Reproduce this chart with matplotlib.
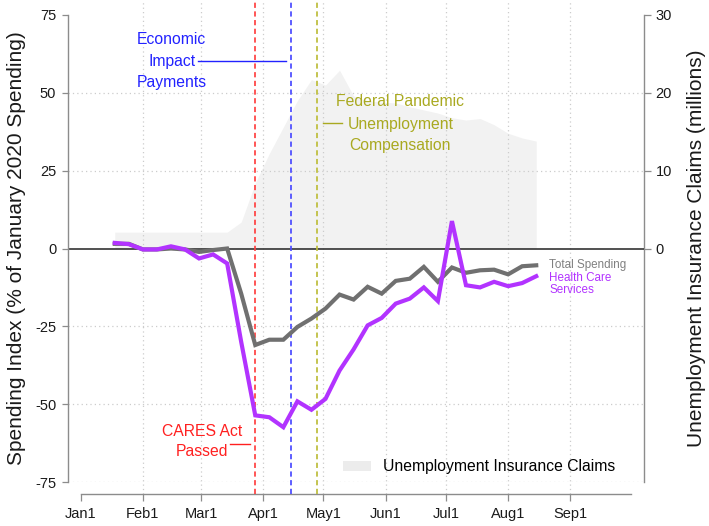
import numpy as np
import pandas as pd
import matplotlib
matplotlib.use('Agg')
import matplotlib.pyplot as plt
from matplotlib.patches import Patch

plt.rcParams['font.family'] = ['Liberation Sans', 'DejaVu Sans']

# ---------------- data ----------------
week_dates = pd.date_range('2020-01-18', periods=31, freq='7D')
total_spending = [1.5, 1.5, -0.3, -0.3, 0.0, -0.3, -1.1, -0.5, 0.0, -14.5,
                  -31.0, -29.3, -29.3, -25.2, -22.5, -19.3, -14.8, -16.4, -12.3, -14.5,
                  -10.4, -9.7, -5.9, -10.7, -6.1, -7.8, -7.0, -6.8, -8.3, -5.7, -5.4]
health_care = [1.8, 1.4, -0.3, -0.3, 0.7, -0.3, -3.2, -1.9, -4.8, -30.0,
               -53.6, -54.2, -57.4, -49.1, -51.8, -48.3, -39.2, -32.4, -24.7, -22.3,
               -17.7, -16.1, -12.5, -16.9, 8.8, -11.8, -12.5, -10.7, -12.1, -11.1, -8.9]
ui_claims = [2.1, 2.1, 2.1, 2.1, 2.1, 2.1, 2.1, 2.1, 2.1, 3.4,
             8.4, 12.2, 15.6, 19.0, 21.7, 21.0, 22.9, 19.6, 19.0, 18.8,
             18.7, 18.2, 17.8, 17.4, 16.8, 16.5, 16.7, 15.9, 14.8, 14.2, 13.8]

month_ticks = ['2020-01-01', '2020-02-01', '2020-03-01', '2020-04-01', '2020-05-01',
               '2020-06-01', '2020-07-01', '2020-08-01', '2020-09-01']
month_labels = ['Jan1', 'Feb1', 'Mar1', 'Apr1', 'May1', 'Jun1', 'Jul1', 'Aug1', 'Sep1']
axis_end = '2020-10-01'
left_ticks = [-75, -50, -25, 0, 25, 50, 75]
right_ticks = [0, 10, 20, 30]

event_dates = ['2020-03-28', '2020-04-15', '2020-04-28']

# ---------------- helpers ----------------
origin = pd.Timestamp('2020-01-01')
def day(d):
    return (pd.Timestamp(d) - origin).days

x = np.array([(d - origin).days for d in week_dates])
tick_x = [day(d) for d in month_ticks]

W, H = 709, 526
fig = plt.figure(figsize=(W / 100, H / 100), dpi=100)
L, R, T, B = 68, 644, 15, 482
ax = fig.add_axes([L / W, 1 - B / H, (R - L) / W, (B - T) / H])
ax2 = ax.twinx()
ax.set_zorder(2)
ax2.set_zorder(1)
ax.patch.set_visible(False)

xmin = -6.3
xmax = 280.7
ax.set_xlim(xmin, xmax)
ax.set_ylim(-75, 75)
ax2.set_ylim(-30, 30)

# area (right axis)
area_color = '#f2f2f2'
ax2.fill_between(x, 0, ui_claims, color=area_color, lw=0)

# grid
grid_kw = dict(color='#cccccc', lw=0.9, ls=(0, (1, 2.5)))
for yv in [-75, -50, -25, 25, 50]:
    ax.axhline(yv, **grid_kw, zorder=1)
ext_lo = (B - 494) / (B - T)
ext_hi = (B - 0) / (B - T)
for tx in tick_x[1:]:
    ax.axvline(tx, ymin=ext_lo, ymax=ext_hi, clip_on=False, zorder=1, **grid_kw)

ax.axhline(0, color='#333333', lw=1.2, zorder=2)

# event lines
ev_colors = ['#ff4040', '#4a4aff', '#bdbd3a']
for d, c in zip(event_dates, ev_colors):
    ax.axvline(day(d), ymin=ext_lo, ymax=ext_hi, clip_on=False, color=c,
               lw=1.25, ls=(0, (3, 2)), zorder=3)

# lines
gray = '#707070'
purple = '#b233ff'
ax.plot(x, total_spending, color=gray, lw=3.0, zorder=5, solid_joinstyle='miter')
ax.plot(x, health_care, color=purple, lw=3.0, zorder=6, solid_joinstyle='miter')

# convert pixel positions to data for annotations
def dx(px):
    return xmin + (px - L) * (xmax - xmin) / (R - L)
def dy(py):
    return 75 - (py - T) * 150 / (B - T)

afs = 11.3
# Economic Impact Payments
blue_t = '#2222ff'
for txt, py in zip(['Economic', 'Impact', 'Payments'], [40, 61.7, 82.7]):
    ax.text(dx(171.7), dy(py), txt, color=blue_t, fontsize=afs, ha='center', va='center')
ax.plot([dx(198), dx(285.7)], [dy(61), dy(61)], color=blue_t, lw=1.0, zorder=4)

# CARES Act
red_t = '#ff2020'
for txt, py in zip(['CARES Act', 'Passed'], [431.7, 452]):
    ax.text(dx(201.7), dy(py), txt, color=red_t, fontsize=afs, ha='center', va='center')
ax.plot([dx(230), dx(250)], [dy(444), dy(444)], color=red_t, lw=1.0, zorder=4)

# Federal Pandemic Unemployment Compensation
olive_t = '#a9a920'
for txt, py in zip(['Federal Pandemic', 'Unemployment', 'Compensation'], [101.7, 124, 145.7]):
    ax.text(dx(400.3), dy(py), txt, color=olive_t, fontsize=afs, ha='center', va='center')
ax.plot([dx(322.7), dx(341.7)], [dy(122.7), dy(122.7)], color=olive_t, lw=1.0, zorder=4)

# series labels
ax.text(dx(549), dy(265), 'Total Spending', color='#808080', fontsize=8.4, ha='left', va='center')
ax.text(dx(549), dy(278), 'Health Care', color=purple, fontsize=8.4, ha='left', va='center')
ax.text(dx(549), dy(290), 'Services', color=purple, fontsize=8.4, ha='left', va='center')

# legend
leg = ax.legend(handles=[Patch(facecolor='#ececec', edgecolor='none')],
                labels=['Unemployment Insurance Claims'],
                loc='center left', bbox_to_anchor=(343 / W, 1 - 467 / H),
                bbox_transform=fig.transFigure, frameon=False, fontsize=afs,
                handlelength=1.8, handleheight=0.65, handletextpad=0.75, borderpad=0,
                borderaxespad=0)

# axes styling
spine_c = '#8c8c8c'
for s in ['top', 'right']:
    ax.spines[s].set_visible(False)
for s in ['top', 'left', 'bottom']:
    ax2.spines[s].set_visible(False)
ax.spines['left'].set_color(spine_c)
ax.spines['left'].set_linewidth(1.0)
ax.spines['bottom'].set_color(spine_c)
ax.spines['bottom'].set_linewidth(1.0)
ax.spines['bottom'].set_position(('outward', 8.6))
ax.spines['bottom'].set_bounds(0, day(axis_end))
ax2.spines['right'].set_color(spine_c)
ax2.spines['right'].set_linewidth(1.0)

ax.set_yticks(left_ticks)
ax.set_yticklabels([str(v) for v in left_ticks])
ax.set_xticks(tick_x)
ax.set_xticklabels(month_labels)
ax2.set_yticks(right_ticks)
ax2.set_yticklabels([str(v) for v in right_ticks])

ax.tick_params(axis='y', length=4.5, width=0.9, color=spine_c, pad=4, labelsize=10.5,
               labelcolor='#1a1a1a')
ax.tick_params(axis='x', length=5, width=0.9, color=spine_c, pad=4.5, labelsize=10.5,
               labelcolor='#1a1a1a')
ax2.tick_params(axis='y', length=4.8, width=0.9, color=spine_c, pad=3.6, labelsize=10.5,
                labelcolor='#1a1a1a')

fig.text(17 / W, 1 - 248.5 / H, 'Spending Index (% of January 2020 Spending)',
         rotation=90, ha='center', va='center', fontsize=15, color='#1a1a1a')
fig.text(696.5 / W, 1 - 248.5 / H, 'Unemployment Insurance Claims (millions)',
         rotation=90, ha='center', va='center', fontsize=15, color='#1a1a1a')

fig.savefig('out.png', dpi=100)
